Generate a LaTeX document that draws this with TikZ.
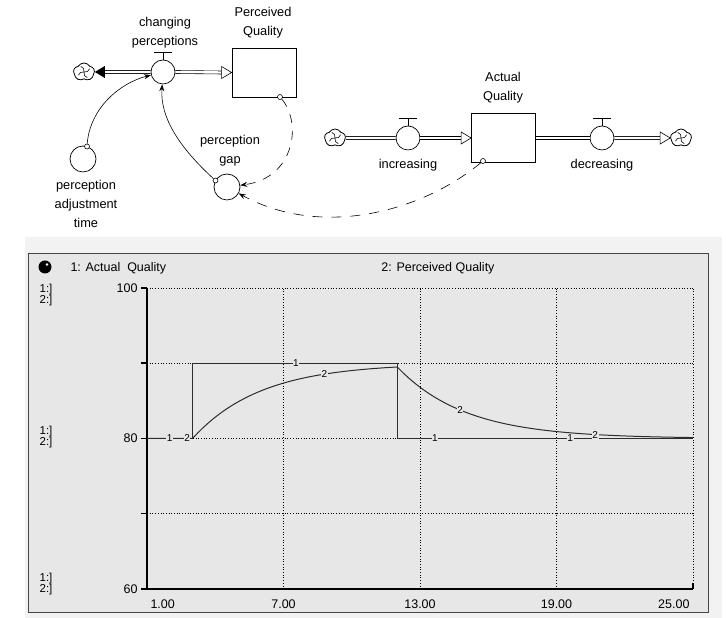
\documentclass[tikz,border=0pt]{standalone}
\usepackage{fontspec}
\setmainfont{Liberation Sans}
\usetikzlibrary{arrows.meta,shapes.symbols}
\definecolor{panelGray}{RGB}{231,231,231}
\definecolor{paperGray}{RGB}{242,242,242}
\definecolor{frameGray}{RGB}{70,70,70}
\definecolor{traceInk}{RGB}{45,45,45}
\newcommand{\ValveTop}[1]{\draw[line width=0.8pt] (#1.north) -- ++(0,7) ++(-9,0) -- ++(18,0);}
\newcommand{\CloudSwirl}[1]{\foreach \a in {30,120,210,300}{\draw[line width=0.6pt] (#1.center) to[bend right=45] ++(\a:6.5);}}

\begin{document}
\begin{tikzpicture}[x=1pt,y=1pt,
  every node/.style={font=\fontsize{12.8}{19}\selectfont},
  stock/.style={draw,line width=0.7pt,minimum width=64pt,minimum height=49pt,inner sep=0pt},
  valve/.style={draw,circle,line width=0.7pt,minimum size=24pt,inner sep=0pt},
  aux/.style={draw,circle,line width=0.7pt,minimum size=26pt,inner sep=0pt},
  tap/.style={draw,circle,line width=0.6pt,minimum size=5pt,inner sep=0pt,fill=white},
  sink/.style={draw,cloud,cloud puffs=5,cloud puff arc=120,aspect=1.1,minimum width=21pt,minimum height=18pt,inner sep=0pt,line width=0.8pt},
  pipe/.style={double,double distance=2.4pt,line width=0.6pt},
  link/.style={line width=0.6pt,-{Stealth[length=7pt,width=5pt]}},
  plotfont/.style={font=\fontsize{12.5}{13}\selectfont}]
\useasboundingbox (0,0) rectangle (726,618);

% stock and flow diagram
\node[sink] (cloudA) at (84,546) {};
\node[valve] (chg) at (163,546) {};
\node[stock] (pq) at (264,545.5) {};
\node[aux] (adj) at (83,459) {};
\node[aux] (gap) at (227,431) {};
\node[sink] (cloudB) at (335,480) {};
\node[valve] (inc) at (408,480) {};
\node[stock] (aq) at (503.5,480) {};
\node[valve] (dec) at (602,480) {};
\node[sink] (cloudC) at (681,480) {};
\CloudSwirl{cloudA}\CloudSwirl{cloudB}\CloudSwirl{cloudC}

\node[align=center] (chgLbl) at (165,585) {changing\\perceptions};
\node[align=center] (pqLbl) at (263,595) {Perceived\\Quality};
\node[align=center] (aqLbl) at (503,530) {Actual\\Quality};
\node[align=center] (gapLbl) at (230,467) {perception\\gap};
\node[align=center] (adjLbl) at (86,414) {perception\\adjustment\\time};
\node (incLbl) at (408,453) {increasing};
\node (decLbl) at (602,453) {decreasing};

\draw[pipe] ([xshift=10pt]cloudA.east) -- (chg.west);
\fill (cloudA.east) -- ++(10,6) -- ++(0,-12) -- cycle;
\draw[pipe] (chg.east) -- ([xshift=-10pt]pq.west);
\draw[fill=white,line width=0.6pt] (pq.west) -- ++(-10,6) -- ++(0,-12) -- cycle;
\draw[pipe] (cloudB.east) -- (inc.west);
\draw[pipe] (inc.east) -- ([xshift=-10pt]aq.west);
\draw[fill=white,line width=0.6pt] (aq.west) -- ++(-10,6) -- ++(0,-12) -- cycle;
\draw[pipe] (aq.east) -- (dec.west);
\draw[pipe] (dec.east) -- ([xshift=-10pt]cloudC.west);
\draw[fill=white,line width=0.6pt] (cloudC.west) -- ++(-10,6) -- ++(0,-12) -- cycle;
\ValveTop{chg}\ValveTop{inc}\ValveTop{dec}

\node[tap] (pqTap) at (280,521) {};
\node[tap] (aqTap) at (483,457) {};
\node[tap] (adjTap) at (87,471.5) {};
\node[tap] (gapTap) at (215.5,437.5) {};
\draw[link] (adjTap) .. controls (90,510) and (120,535) .. (chg);
\draw[link] (gapTap) .. controls (180,470) and (160,500) .. (chg);
\draw[link,dash pattern=on 9pt off 8pt] (pqTap) .. controls (302,495) and (295,440) .. (gap);
\draw[link,dash pattern=on 10pt off 9pt] (aqTap) .. controls (420,405) and (320,380) .. (gap);

% graph pad
\fill[paperGray] (25,0) rectangle (722,381);
\draw[frameGray,fill=panelGray,line width=0.8pt] (28,6) rectangle (708,365);
\fill (45,351) circle (6.5);
\fill[white] (47,353.5) circle (1.3);
\node[plotfont,anchor=west] (key1) at (67,350) {1: Actual\ \ Quality};
\node[plotfont] (key2) at (438,350) {2: Perceived Quality};
\foreach \y [count=\i] in {323,181,34}
  \node[font=\fontsize{11.5}{11}\selectfont,align=left] (scale\i) at (46,\y) {1:]\\2:]};

\begin{scope}[x=22.75pt,y=7.525pt,shift={(124.25pt,-422.5pt)}]
  \foreach \v in {70,80,90,100} \draw[dotted,line width=0.7pt] (1,\v) -- (25,\v);
  \foreach \tk in {7,13,19,25} \draw[dotted,line width=0.7pt] (\tk,60) -- (\tk,100);
  \draw[line width=1.8pt] (1,100) -- (1,60) -- (25,60);
  \foreach \v in {60,70,...,100} \draw[line width=1.5pt] (1,\v) -- ++(-6pt,0);
  \draw[line width=1.5pt] (25,60) -- ++(0,6pt);
  \foreach \v in {60,80,100} \node[plotfont,anchor=east] at ([xshift=-6pt]1,\v) {\v};
  \node[plotfont,anchor=west] at ([yshift=-15pt]1,60) {1.00};
  \foreach \tk in {7,13,19} \node[plotfont] at ([yshift=-15pt]\tk,60) {\tk.00};
  \node[plotfont,anchor=east] at ([yshift=-15pt]25,60) {25.00};
  % 1: Actual Quality, 2: Perceived Quality
  \draw[traceInk,line width=1pt] (1,80) -- (3,80) -- (3,90) -- (12,90) -- (12,80) -- (25,80);
  \draw[traceInk,line width=1pt] (1,80) -- (3,80)
    -- plot[domain=3:12,samples=40] (\x,{90-10*exp(-(\x-3)/3)})
    -- plot[domain=12:25,samples=50] (\x,{80+9.502*exp(-(\x-12)/3)});
  \foreach \tk/\v/\n [count=\i] in {2.0/80/1,2.76/80/2,7.55/90/1,8.8/88.55/2,13.66/80/1,14.76/83.79/2,19.6/80/1,20.7/80.52/2}
    \node[font=\fontsize{10}{10}\selectfont,fill=panelGray,inner sep=0.6pt] (tag\i) at (\tk,\v) {\n};
\end{scope}
\end{tikzpicture}
\end{document}
